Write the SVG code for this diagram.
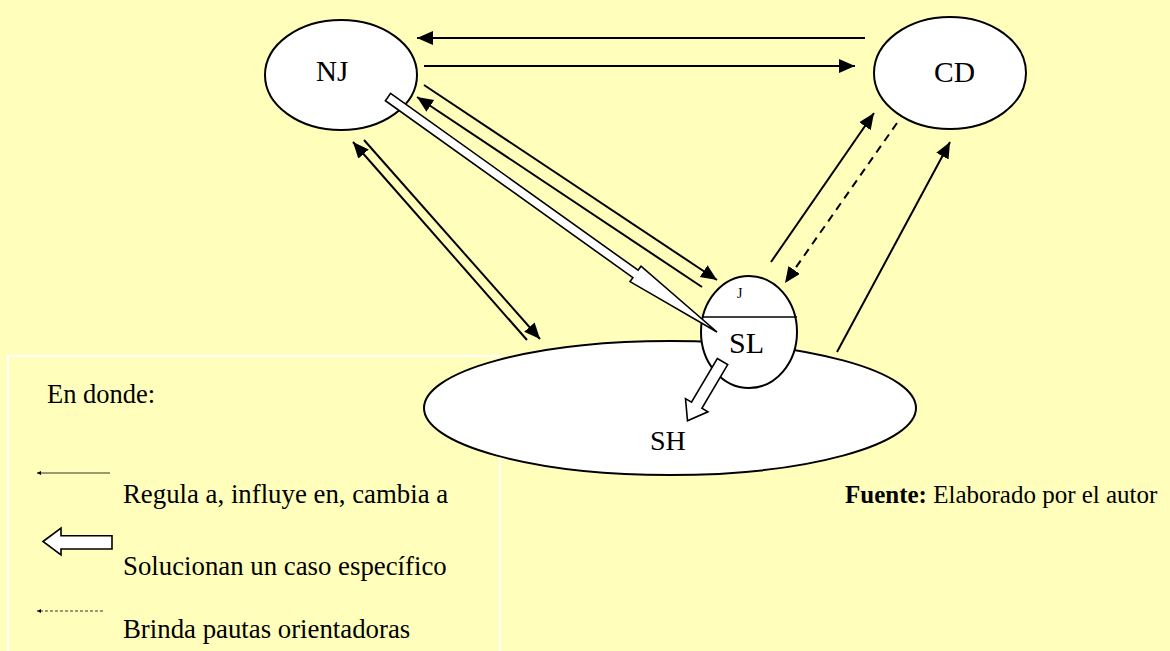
<svg xmlns="http://www.w3.org/2000/svg" width="1170" height="651" viewBox="0 0 1170 651">
<defs>
<style>
.node{fill:#fff;stroke:#000;stroke-width:2}
.lbl{font-family:"Liberation Serif","Times New Roman",serif;fill:#000}
.con{fill:none;stroke:#000;stroke-width:2}
.dash{stroke-dasharray:8,6}
.hollow{fill:#fff;stroke:#000;stroke-width:1.6;stroke-linejoin:miter}
.leg{fill:none;stroke:#000;stroke-width:0.8}
</style>
<marker id="ah" markerUnits="userSpaceOnUse" markerWidth="17" markerHeight="15" refX="16" refY="7" orient="auto">
<path d="M0,0 L16,7 L0,14 z" fill="#000"/>
</marker>
<marker id="sm" markerUnits="userSpaceOnUse" markerWidth="5" markerHeight="4" refX="4" refY="2" orient="auto">
<path d="M0,0 L4,2 L0,4 z" fill="#000"/>
</marker>
</defs>
<rect x="0" y="0" width="1170" height="651" fill="#FFFFBB"/>
<g id="legend">
<rect x="8" y="356" width="492" height="310" fill="none" stroke="#fff" stroke-width="2"/>
<text class="lbl" x="47" y="403" font-size="26.5">En donde:</text>
<line class="leg" x1="110" y1="473" x2="37" y2="473" marker-end="url(#sm)"/>
<text class="lbl" x="123" y="503" font-size="26.8">Regula a, influye en, cambia a</text>
<polygon class="hollow" points="43,541.5 61,528 61,535.7 112,535.7 112,549 61,549 61,555"/>
<text class="lbl" x="123" y="575" font-size="26.8">Solucionan un caso específico</text>
<line class="leg" x1="103" y1="611" x2="37" y2="611" stroke-dasharray="3,2" marker-end="url(#sm)"/>
<text class="lbl" x="123" y="638" font-size="26.8">Brinda pautas orientadoras</text>
</g>
<g id="node-SH">
<ellipse class="node" cx="670" cy="408" rx="246" ry="67"/>
<text class="lbl" x="650" y="450" font-size="28">SH</text>
</g>
<g id="node-SL">
<ellipse class="node" cx="749" cy="332" rx="48" ry="56"/>
<line x1="702" y1="317" x2="797" y2="317" stroke="#000" stroke-width="1.5"/>
<text class="lbl" x="737" y="298" font-size="14">J</text>
<text class="lbl" x="729" y="353" font-size="30">SL</text>
</g>
<g id="node-NJ">
<ellipse class="node" cx="341" cy="75" rx="76" ry="55"/>
<text class="lbl" x="316" y="81" font-size="29">NJ</text>
</g>
<g id="node-CD">
<ellipse class="node" cx="950" cy="73" rx="76" ry="56"/>
<text class="lbl" x="934" y="82" font-size="29.5">CD</text>
</g>
<g id="connectors">
<line class="con" x1="865" y1="38" x2="417" y2="38" marker-end="url(#ah)"/>
<line class="con" x1="424" y1="66" x2="855" y2="66" marker-end="url(#ah)"/>
<line class="con" x1="424" y1="85" x2="717" y2="280" marker-end="url(#ah)"/>
<line class="con" x1="702" y1="287" x2="417" y2="97" marker-end="url(#ah)"/>
<line class="con" x1="527" y1="340" x2="353" y2="142" marker-end="url(#ah)"/>
<line class="con" x1="364" y1="140" x2="540" y2="339" marker-end="url(#ah)"/>
<line class="con" x1="771" y1="262" x2="874" y2="113" marker-end="url(#ah)"/>
<line class="con dash" x1="897" y1="123" x2="785" y2="283" marker-end="url(#ah)"/>
<line class="con" x1="837" y1="352" x2="950" y2="142" marker-end="url(#ah)"/>
<polygon class="hollow" points="390.6,93.3 638.1,270.2 641,266.2 717,332 630,281.6 632.9,277.6 385.4,100.7"/>
<polygon class="hollow" points="717.3,358.5 727.7,364.6 701.9,408.3 707.9,411.8 687.5,420.7 685.5,398.6 691.5,402.1"/>
</g>
<g id="source">
<text class="lbl" x="845" y="503" font-size="25"><tspan font-weight="bold">Fuente:</tspan> Elaborado por el autor</text>
</g>
</svg>
